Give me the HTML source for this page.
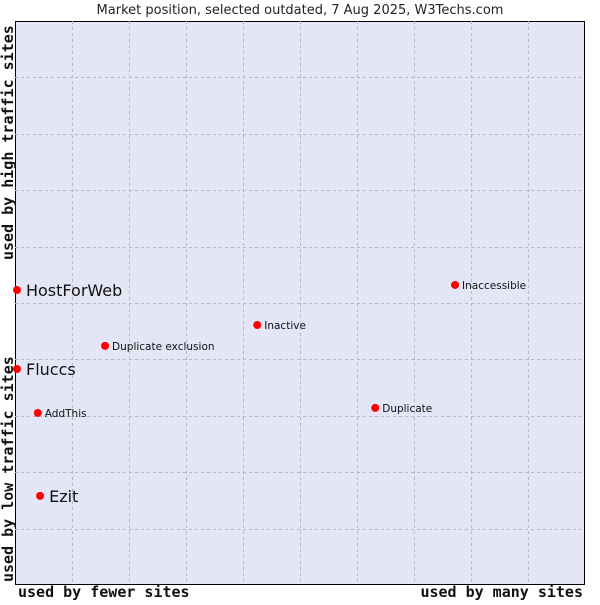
<!DOCTYPE html>
<html><head><meta charset="utf-8"><style>
body{margin:0;background:#fff}
svg text{font-family:"DejaVu Sans","Liberation Sans",sans-serif}
.mono{font-family:"DejaVu Sans Mono","Liberation Mono",monospace;font-size:15px;font-weight:bold;fill:#111}
</style></head><body>
<svg id="chart" width="600" height="600" xmlns="http://www.w3.org/2000/svg">
<text x="300" y="14" text-anchor="middle" font-size="13" fill="#222">Market position, selected outdated, 7 Aug 2025, W3Techs.com</text>
<rect x="15.5" y="21.5" width="569" height="563" fill="#e4e6f8" stroke="#000" stroke-width="1"/>
<g id="grid"></g>
<g id="points"></g>
<text class="mono" x="18" y="597">used by fewer sites</text>
<text class="mono" x="583" y="597" text-anchor="end">used by many sites</text>
<text class="mono" transform="translate(13,582) rotate(-90)">used by low traffic sites</text>
<text class="mono" transform="translate(13,260) rotate(-90)">used by high traffic sites</text>
</svg>
<script>
const names=["HostForWeb","Fluccs","Ezit","AddThis","Duplicate exclusion","Inactive","Duplicate","Inaccessible"];
const xVals=[0.35,0.35,4.4,4.0,15.8,42.5,63.2,77.2];
const yVals=[52.3,38.3,15.8,30.5,42.4,46.1,31.4,53.2];
const big=[true,true,true,false,false,false,false,false];
const L=15,R=585,T=21,B=585;
const sx=v=>L+v/100*(R-L), sy=v=>B-v/100*(B-T);
const NS="http://www.w3.org/2000/svg";
const g=document.getElementById('grid');
for(let i=1;i<10;i++){
 const x=Math.round(L+i*(R-L)/10)+0.5, y=Math.round(T+i*(B-T)/10)+0.5;
 let l=document.createElementNS(NS,'line');
 
 
 l.setAttribute('x1',x);l.setAttribute('x2',x);l.setAttribute('y1',T);l.setAttribute('y2',B);
 l.setAttribute('stroke','#b8b8c0');l.setAttribute('stroke-dasharray','3,3');g.appendChild(l);
 l=document.createElementNS(NS,'line');
 
 
 l.setAttribute('y1',y);l.setAttribute('y2',y);l.setAttribute('x1',L);l.setAttribute('x2',R);
 l.setAttribute('stroke','#b8b8c0');l.setAttribute('stroke-dasharray','3,3');g.appendChild(l);
}
const p=document.getElementById('points');
names.forEach((n,i)=>{
 const x=sx(xVals[i]),y=sy(yVals[i]);
 const c=document.createElementNS(NS,'circle');
 
 
 c.setAttribute('cx',x);c.setAttribute('cy',y);c.setAttribute('r',4);c.setAttribute('fill','#f00');p.appendChild(c);
 const t=document.createElementNS(NS,'text');
 
 
 t.setAttribute('x',x+(big[i]?9:7));t.setAttribute('y',y+(big[i]?6:4));
 t.setAttribute('font-size',big[i]?16:10.5);t.setAttribute('fill','#111');
 t.textContent=n;p.appendChild(t);
});
</script>
</body></html>
